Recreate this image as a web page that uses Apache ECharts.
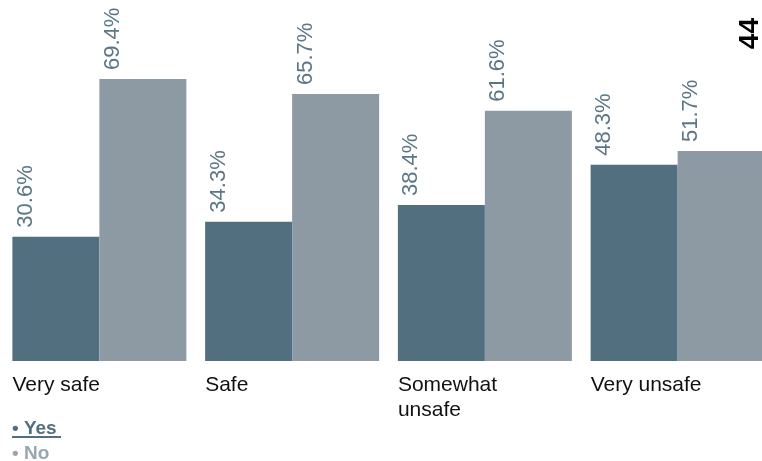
<!DOCTYPE html>
<html>
<head>
<meta charset="utf-8">
<script src="https://cdn.jsdelivr.net/npm/echarts@6/dist/echarts.min.js"></script>
<style>
  html, body { margin: 0; padding: 0; background: #fff; overflow: hidden; }
  #chart { width: 780px; height: 461px; }
</style>
</head>
<body>
<div id="chart"></div>
<script>
  // 数据
  var categories = ['Very safe', 'Safe', 'Somewhat\nunsafe', 'Very unsafe']
  var yesValues = [30.6, 34.3, 38.4, 48.3]
  var noValues = [69.4, 65.7, 61.6, 51.7]
  var seriesNames = ['Yes', 'No']
  var pageNumber = '44'

  var yesColor = '#516f7f'
  var noColor = '#8d9aa4'
  var labelColor = '#5b7686'
  var fontFamily = '"Liberation Sans", Arial, Helvetica, sans-serif'

  var valueLabel = {
    show: true,
    position: 'top',
    distance: 9,
    rotate: 90,
    align: 'left',
    verticalAlign: 'middle',
    offset: [0, -30],
    color: labelColor,
    fontFamily: fontFamily,
    fontSize: 22,
    formatter: function (p) {
      return p.value.toFixed(1) + '%'
    }
  }

  var legendText = {
    fontFamily: fontFamily,
    fontSize: 19,
    fontWeight: 'bold'
  }

  var myChart = echarts.init(document.getElementById('chart'))
  myChart.setOption({
    animation: false,
    grid: {
      left: 3,
      width: 771,
      top: 36,
      bottom: 100,
      containLabel: false
    },
    // 两个图例分开放，上下排列
    legend: [
      {
        left: 2,
        top: 414,
        itemWidth: 0,
        itemHeight: 0,
        selectedMode: false,
        formatter: function (name) {
          return '• ' + name
        },
        data: [{ name: 'Yes', textStyle: { color: yesColor } }],
        textStyle: legendText
      },
      {
        left: 2,
        top: 439,
        itemWidth: 0,
        itemHeight: 0,
        selectedMode: false,
        formatter: function (name) {
          return '• ' + name
        },
        data: [{ name: 'No', textStyle: { color: '#9aa6af' } }],
        textStyle: legendText
      }
    ],
    xAxis: {
      type: 'category',
      data: categories,
      axisLine: { show: false },
      axisTick: { show: false },
      splitLine: { show: false },
      axisLabel: {
        align: 'left',
        margin: 12,
        padding: [0, 0, 0, -87],
        color: '#111',
        fontFamily: fontFamily,
        fontSize: 21,
        lineHeight: 25
      }
    },
    yAxis: {
      type: 'value',
      min: 0,
      max: 80,
      show: false
    },
    series: [
      {
        name: seriesNames[0],
        type: 'bar',
        data: yesValues,
        barWidth: 87,
        barGap: 0,
        itemStyle: { color: yesColor },
        label: valueLabel
      },
      {
        name: seriesNames[1],
        type: 'bar',
        data: noValues,
        barWidth: 87,
        barGap: 0,
        itemStyle: { color: noColor },
        label: valueLabel
      }
    ],
    graphic: [
      {
        type: 'text',
        left: 736,
        top: 18,
        rotation: Math.PI / 2,
        style: {
          text: pageNumber,
          fill: '#000',
          font: 'bold 28px ' + fontFamily
        }
      },
      {
        type: 'rect',
        left: 12,
        top: 436,
        shape: { width: 49, height: 2 },
        style: { fill: yesColor }
      }
    ]
  })
</script>
</body>
</html>
